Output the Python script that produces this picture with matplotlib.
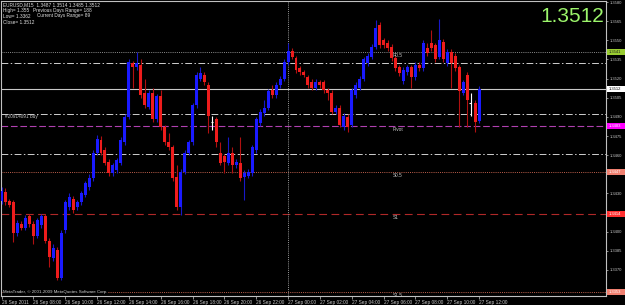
import matplotlib

matplotlib.use("Agg")
import matplotlib.pyplot as plt
import matplotlib.transforms as mtransforms
from matplotlib.patches import Rectangle
import numpy as np

plt.rcParams["font.family"] = ["Liberation Sans", "DejaVu Sans"]

# EURUSD M15, 26 Sep 2011 06:00 -> 27 Sep 2011 12:00 (121 bars)
OPENS = [
    1.3424, 1.3431, 1.3424, 1.3423, 1.3399, 1.3406, 1.3403, 1.3412, 1.3406, 1.3397,
    1.3405, 1.3412, 1.3393, 1.3379, 1.3386, 1.3364, 1.3401, 1.3419, 1.3426, 1.3419,
    1.3423, 1.3429, 1.3435, 1.3442, 1.3462, 1.3472, 1.3464, 1.3455, 1.3446, 1.3448,
    1.3454, 1.3470, 1.3490, 1.3532, 1.3529, 1.3531, 1.3509, 1.3498, 1.3509, 1.3488,
    1.3506, 1.3482, 1.3470, 1.3466, 1.3443, 1.3419, 1.3447, 1.3462, 1.3470, 1.3499,
    1.3520, 1.3523, 1.3515, 1.3486, 1.3488, 1.3462, 1.3459, 1.3454, 1.3462, 1.3452,
    1.3454, 1.3443, 1.3444, 1.3446, 1.3464, 1.3485, 1.3493, 1.3497, 1.3511, 1.3507,
    1.3515, 1.3520, 1.3533, 1.3542, 1.3536, 1.3528, 1.3525, 1.3521, 1.3517, 1.3513,
    1.3517, 1.3517, 1.3511, 1.3509, 1.3494, 1.3497, 1.3482, 1.3490, 1.3484, 1.3507,
    1.3513, 1.3520, 1.3532, 1.3537, 1.3545, 1.3562, 1.3550, 1.3548, 1.3545, 1.3536,
    1.3529, 1.3518, 1.3525, 1.3529, 1.3521, 1.3531, 1.3528, 1.3544, 1.3548, 1.3546,
    1.3537, 1.3549, 1.3532, 1.3541, 1.3538, 1.3529, 1.3509, 1.3523, 1.3501, 1.3501,
    1.3487,
]
HIGHS = [
    1.3435, 1.3434, 1.3426, 1.3425, 1.3409, 1.3408, 1.3413, 1.3414, 1.3408, 1.3411,
    1.3414, 1.3414, 1.3395, 1.3390, 1.3388, 1.3401, 1.3425, 1.3430, 1.3428, 1.3425,
    1.3432, 1.3440, 1.3445, 1.3464, 1.3476, 1.3475, 1.3466, 1.3457, 1.3454, 1.3458,
    1.3474, 1.3492, 1.3535, 1.3534, 1.3541, 1.3535, 1.3520, 1.3511, 1.3513, 1.3508,
    1.3511, 1.3484, 1.3477, 1.3468, 1.3452, 1.3449, 1.3464, 1.3472, 1.3501, 1.3525,
    1.3529, 1.3525, 1.3517, 1.3491, 1.3490, 1.3470, 1.3461, 1.3474, 1.3466, 1.3457,
    1.3474, 1.3448, 1.3449, 1.3468, 1.3490, 1.3496, 1.3503, 1.3512, 1.3515, 1.3517,
    1.3522, 1.3535, 1.3548, 1.3544, 1.3538, 1.3530, 1.3527, 1.3523, 1.3520, 1.3520,
    1.3519, 1.3519, 1.3513, 1.3511, 1.3499, 1.3499, 1.3493, 1.3492, 1.3513, 1.3517,
    1.3522, 1.3537, 1.3540, 1.3547, 1.3566, 1.3564, 1.3552, 1.3550, 1.3547, 1.3538,
    1.3531, 1.3529, 1.3531, 1.3531, 1.3533, 1.3533, 1.3550, 1.3548, 1.3558, 1.3548,
    1.3567, 1.3551, 1.3543, 1.3543, 1.3540, 1.3531, 1.3519, 1.3525, 1.3509, 1.3503,
    1.3514,
]
LOWS = [
    1.3422, 1.3421, 1.3419, 1.3392, 1.3397, 1.3401, 1.3401, 1.3404, 1.3390, 1.3395,
    1.3403, 1.3391, 1.3372, 1.3377, 1.3362, 1.3362, 1.3399, 1.3417, 1.3415, 1.3417,
    1.3421, 1.3427, 1.3433, 1.3440, 1.3460, 1.3460, 1.3452, 1.3444, 1.3444, 1.3446,
    1.3452, 1.3468, 1.3488, 1.3513, 1.3527, 1.3505, 1.3497, 1.3496, 1.3486, 1.3486,
    1.3480, 1.3468, 1.3464, 1.3440, 1.3417, 1.3413, 1.3445, 1.3460, 1.3468, 1.3497,
    1.3518, 1.3515, 1.3477, 1.3480, 1.3466, 1.3452, 1.3446, 1.3452, 1.3446, 1.3450,
    1.3440, 1.3425, 1.3442, 1.3444, 1.3462, 1.3483, 1.3491, 1.3495, 1.3505, 1.3505,
    1.3513, 1.3518, 1.3531, 1.3535, 1.3524, 1.3523, 1.3521, 1.3513, 1.3511, 1.3511,
    1.3513, 1.3509, 1.3503, 1.3492, 1.3492, 1.3482, 1.3480, 1.3478, 1.3482, 1.3505,
    1.3511, 1.3518, 1.3530, 1.3535, 1.3543, 1.3544, 1.3544, 1.3542, 1.3534, 1.3526,
    1.3522, 1.3516, 1.3523, 1.3513, 1.3519, 1.3526, 1.3526, 1.3538, 1.3542, 1.3533,
    1.3535, 1.3533, 1.3530, 1.3513, 1.3526, 1.3482, 1.3507, 1.3482, 1.3491, 1.3478,
    1.3485,
]
CLOSES = [
    1.3432, 1.3423, 1.3421, 1.3399, 1.3407, 1.3403, 1.3411, 1.3406, 1.3397, 1.3409,
    1.3412, 1.3393, 1.3380, 1.3387, 1.3364, 1.3399, 1.3423, 1.3427, 1.3417, 1.3423,
    1.3430, 1.3438, 1.3442, 1.3462, 1.3473, 1.3462, 1.3454, 1.3446, 1.3452, 1.3456,
    1.3472, 1.3490, 1.3533, 1.3529, 1.3532, 1.3507, 1.3499, 1.3509, 1.3488, 1.3506,
    1.3482, 1.3470, 1.3466, 1.3442, 1.3419, 1.3447, 1.3462, 1.3470, 1.3499, 1.3523,
    1.3524, 1.3517, 1.3491, 1.3486, 1.3470, 1.3454, 1.3455, 1.3462, 1.3452, 1.3455,
    1.3442, 1.3446, 1.3447, 1.3466, 1.3488, 1.3494, 1.3497, 1.3510, 1.3507, 1.3515,
    1.3520, 1.3533, 1.3542, 1.3537, 1.3527, 1.3525, 1.3523, 1.3515, 1.3513, 1.3517,
    1.3515, 1.3511, 1.3509, 1.3494, 1.3497, 1.3484, 1.3491, 1.3482, 1.3511, 1.3515,
    1.3520, 1.3535, 1.3538, 1.3545, 1.3560, 1.3546, 1.3546, 1.3544, 1.3536, 1.3528,
    1.3524, 1.3527, 1.3529, 1.3521, 1.3531, 1.3528, 1.3548, 1.3540, 1.3544, 1.3535,
    1.3550, 1.3535, 1.3541, 1.3532, 1.3528, 1.3510, 1.3517, 1.3503, 1.3501, 1.3486,
    1.3512,
]

TIME_LABELS = [
    "26 Sep 2011", "26 Sep 08:00", "26 Sep 10:00", "26 Sep 12:00", "26 Sep 14:00",
    "26 Sep 16:00", "26 Sep 18:00", "26 Sep 20:00", "26 Sep 22:00", "27 Sep 00:00",
    "27 Sep 02:00", "27 Sep 04:00", "27 Sep 06:00", "27 Sep 08:00", "27 Sep 10:00",
    "27 Sep 12:00",
]

# horizontal levels: price, label, kind
LEVEL_PRICES = [1.3541, 1.3532, 1.3512, 1.3492, 1.3483, 1.3461, 1.3447, 1.3414, 1.3353]
LEVEL_NAMES = ["R0.5", "", "", "", "Pivot", "", "S0.5", "S1", "S1.5"]
LEVEL_KINDS = ["dot_grey", "dashdot", "bid", "dashdot", "pivot", "dashdot", "dot_red", "dash_red", "dot_red"]

TAG_PRICES = [1.3541, 1.3512, 1.3483, 1.3447, 1.3414, 1.3353]
TAG_COLORS = ["#9acd32", "#ffffff", "#ff00ff", "#f08070", "#ff3030", "#f08070"]
TAG_TEXT_COLORS = ["#202020", "#000000", "#ffffff", "#ffffff", "#ffffff", "#ffffff"]

HEADER = [
    "EURUSD,M15  1.3487 1.3514 1.3485 1.3512",
    "High= 1.355",
    "Low= 1.3362",
    "Close= 1.3512",
]
RANGE_TEXT = ["Previous Days Range= 188", "Current Days Range= 89"]

STYLES = {
    "dot_grey": dict(color="#8c8c8c", linestyle=(0, (1, 1.2)), linewidth=0.7),
    "dashdot": dict(color="#d0d0d0", linestyle=(0, (7, 2.5, 1.5, 2.5)), linewidth=0.7),
    "bid": dict(color="#c8c8c8", linestyle="-", linewidth=0.8),
    "pivot": dict(color="#b040b0", linestyle=(0, (6, 2.5)), linewidth=0.8),
    "dot_red": dict(color="#c0604c", linestyle=(0, (1, 1.2)), linewidth=0.7),
    "dash_red": dict(color="#b02828", linestyle=(0, (7, 4)), linewidth=0.8),
}

opens = np.array(OPENS)
highs = np.array(HIGHS)
lows = np.array(LOWS)
closes = np.array(CLOSES)
x = np.arange(len(opens))

fig = plt.figure(figsize=(6.25, 3.05), dpi=100, facecolor="black")
ax = fig.add_axes([1 / 625, 9.5 / 305, 605 / 625, 294.5 / 305])
ax.set_facecolor("black")
ax.set_xlim(-0.13, 151.9)
ax.set_ylim(1.335, 1.35808)

for price, name, kind in zip(LEVEL_PRICES, LEVEL_NAMES, LEVEL_KINDS):
    ax.axhline(price, zorder=1, **STYLES[kind])
    if name:
        ax.text(98.3, price - 0.00008, name, color="#c8c8c8", fontsize=3.4, va="top", ha="left", zorder=2)

# day separator at 27 Sep 00:00
ax.axvline(72, color="#9a9a9a", linestyle=(0, (1, 1.2)), linewidth=0.7, zorder=1)

# candles
up = closes > opens
down = closes < opens
doji = closes == opens
body_bottom = np.minimum(opens, closes)
body_height = np.maximum(np.abs(closes - opens), 0.00008)

ax.vlines(x[up], lows[up], highs[up], color="#1818c8", linewidth=0.8, zorder=3)
ax.vlines(x[down], lows[down], highs[down], color="#b01010", linewidth=0.8, zorder=3)
ax.bar(x[up], body_height[up], bottom=body_bottom[up], width=0.75, color="#1a1aff", linewidth=0, zorder=4)
ax.bar(x[down], body_height[down], bottom=body_bottom[down], width=0.75, color="#ee1c1c", linewidth=0, zorder=4)
ax.vlines(x[doji], lows[doji], highs[doji], color="white", linewidth=0.8, zorder=4)
ax.hlines(opens[doji], x[doji] - 0.45, x[doji] + 0.1, color="white", linewidth=0.8, zorder=4)

for side in ["left", "right", "top", "bottom"]:
    ax.spines[side].set_color("#c0c0c0")
    ax.spines[side].set_linewidth(0.8)

# price scale: labels sitting under a price tag are hidden by the tag
ax.yaxis.tick_right()
yticks = np.round(np.arange(1.3355, 1.3581, 0.0015), 4)
ax.set_yticks(yticks)
ax.set_yticklabels([
    "" if min(abs(v - t) for t in TAG_PRICES) < 0.00035 else f"{v:.4f}" for v in yticks
])
ax.tick_params(axis="y", colors="#c8c8c8", labelsize=3, length=1.5, width=0.5, pad=1)

ax.set_xticks(x[::8])
ax.set_xticklabels(TIME_LABELS, ha="left")
ax.tick_params(axis="x", colors="#c8c8c8", labelsize=3.4, length=2.5, width=0.5, pad=0.5)

# price tags on the right scale
blend = mtransforms.blended_transform_factory(ax.transAxes, ax.transData)
tag_h = 0.00047
for price, bg, fg in zip(TAG_PRICES, TAG_COLORS, TAG_TEXT_COLORS):
    ax.add_patch(Rectangle((1.0015, price - tag_h / 2), 0.031, tag_h, transform=blend,
                           facecolor=bg, edgecolor="none", clip_on=False, zorder=6))
    ax.text(1.005, price, f"{price:.4f}", transform=blend, color=fg, fontsize=3,
            va="center", ha="left", clip_on=False, zorder=7)

# header text
header_y = [5, 10.5, 16, 22]
for text, y in zip(HEADER, header_y):
    fig.text(3 / 625, 1 - y / 305, text, color="#e0e0e0", fontsize=3.4, va="center", ha="left")
fig.text(33 / 625, 1 - 10.5 / 305, RANGE_TEXT[0], color="#e0e0e0", fontsize=3.4, va="center", ha="left")
fig.text(37 / 625, 1 - 16 / 305, RANGE_TEXT[1], color="#e0e0e0", fontsize=3.4, va="center", ha="left")

ax.text(1, 1.34885, "#20914091 buy", color="#c8c8c8", fontsize=3.4, va="bottom", ha="left", zorder=2)

fig.text(604 / 625, 1 - 17 / 305, f"{CLOSES[-1]:.4f}", color="#9cf56b", fontsize=15,
         ha="right", va="center")

fig.text(3 / 625, 1 - 292 / 305, "MetaTrader, © 2001-2009 MetaQuotes Software Corp.", color="#d0d0d0",
         fontsize=3.2, va="center", ha="left",
         bbox=dict(facecolor="black", edgecolor="none", pad=0.3))

fig.savefig("out.png", dpi=100, facecolor="black")
